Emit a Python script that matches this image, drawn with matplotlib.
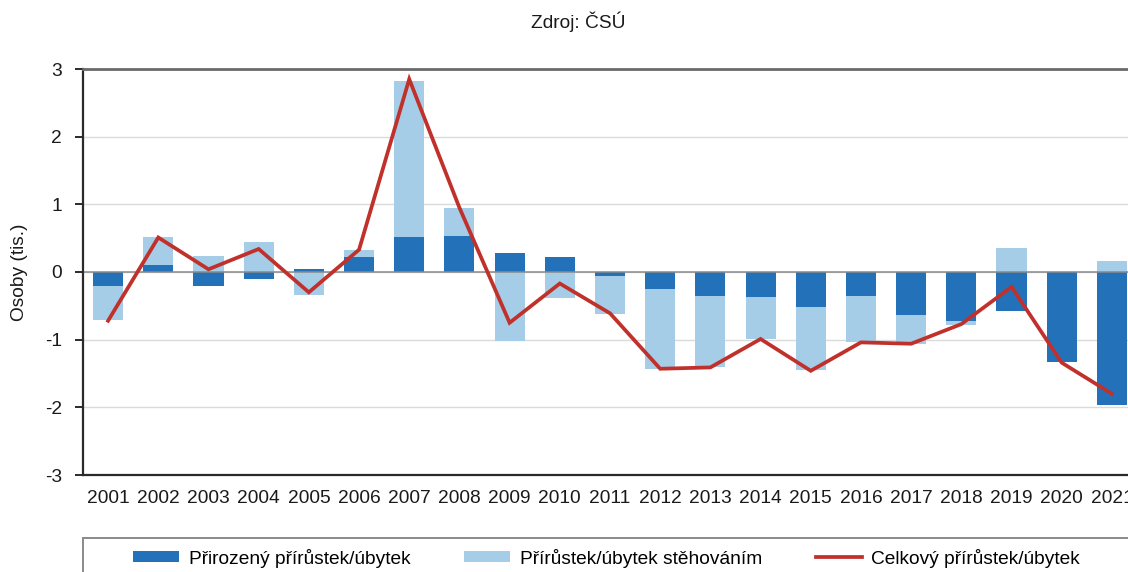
import matplotlib.pyplot as plt
import numpy as np
from matplotlib.patches import Rectangle

# ── Data (tis. osob) ──────────────────────────────────────────────────────────
years = [str(y) for y in range(2001, 2022)]
natural = [-0.20, 0.10, -0.21, -0.11, 0.04, 0.22, 0.52, 0.53, 0.28, 0.22, -0.06,
           -0.25, -0.35, -0.37, -0.52, -0.35, -0.64, -0.73, -0.57, -1.33, -1.97]
migration = [-0.51, 0.41, 0.24, 0.45, -0.34, 0.10, 2.31, 0.42, -1.02, -0.39, -0.56,
             -1.18, -1.05, -0.62, -0.93, -0.69, -0.42, -0.05, 0.35, 0.00, 0.16]
total = [-0.72, 0.51, 0.04, 0.34, -0.30, 0.33, 2.85, 0.95, -0.75, -0.17, -0.61,
         -1.43, -1.41, -0.99, -1.46, -1.04, -1.06, -0.77, -0.22, -1.34, -1.80]
labels = ["Přirozený přírůstek/úbytek", "Přírůstek/úbytek stěhováním", "Celkový přírůstek/úbytek"]

C_DARK = "#2271B9"
C_LIGHT = "#A6CDE7"
C_RED = "#C1312C"
C_TXT = "#1a1a1a"
FONT = "Liberation Sans"
FS = 13.8
W, H = 1128, 572

plt.rcParams["font.family"] = [FONT, "DejaVu Sans"]
plt.rcParams["axes.unicode_minus"] = False

fig = plt.figure(figsize=(W / 100, H / 100), dpi=100, facecolor="white")
# axes runs past the right edge of the picture, like the original crop
ax = fig.add_axes([83 / W, (H - 475) / H, (1137 - 83) / W, (475 - 69) / H])

x = np.arange(len(years))
nat = np.array(natural)
mig = np.array(migration)
# stack migration on the same side as its sign
mig_bottom = np.where(mig >= 0, np.maximum(nat, 0), np.minimum(nat, 0))

b1 = ax.bar(x, nat, width=0.6, color=C_DARK, zorder=2)
b2 = ax.bar(x, mig, width=0.6, bottom=mig_bottom, color=C_LIGHT, zorder=2)
ax.axhline(0, color="#8a8a8a", lw=1.1, zorder=2.5)
(ln,) = ax.plot(x, total, color=C_RED, lw=2.7, zorder=3, solid_joinstyle="miter")

ax.set_xlim(-0.5, len(years) - 0.5)
ax.set_ylim(-3, 3)
ax.set_yticks(range(-3, 4))
ax.set_xticks(x)
ax.set_xticklabels(years)
ax.yaxis.grid(True, color="#dadada", lw=1.0, zorder=0)
ax.set_axisbelow(True)

ax.tick_params(axis="x", length=0, pad=11, labelsize=FS, colors=C_TXT)
ax.tick_params(axis="y", length=6, width=1.3, pad=9, labelsize=FS, colors=C_TXT, direction="out")
for s in ["left", "bottom"]:
    ax.spines[s].set_color("#2a2a2a")
    ax.spines[s].set_linewidth(1.6)
ax.spines["top"].set_color("#6a6a6a")
ax.spines["top"].set_linewidth(2.0)
ax.spines["right"].set_visible(False)

ax.set_ylabel("Osoby (tis.)", fontsize=FS, color=C_TXT, labelpad=12)

fig.text(578 / W, 1 - 22 / H, "Zdroj: ČSÚ", ha="center", va="center", fontsize=FS, color=C_TXT)

# ── Legend box at bottom ──────────────────────────────────────────────────────
fig.add_artist(Rectangle((83 / W, (H - 600) / H), (1140 - 83) / W, 62 / H,
                         transform=fig.transFigure, facecolor="white",
                         edgecolor="#8a8a8a", lw=1.4, zorder=1))
fig.legend([b1, b2, ln], labels,
           loc="center left", bbox_to_anchor=(116 / W, 1 - 558 / H), ncol=3,
           frameon=False, fontsize=FS, handlelength=2.4, handleheight=0.5,
           handletextpad=0.5, columnspacing=2.8)

fig.savefig("out.png", dpi=100, facecolor="white")
